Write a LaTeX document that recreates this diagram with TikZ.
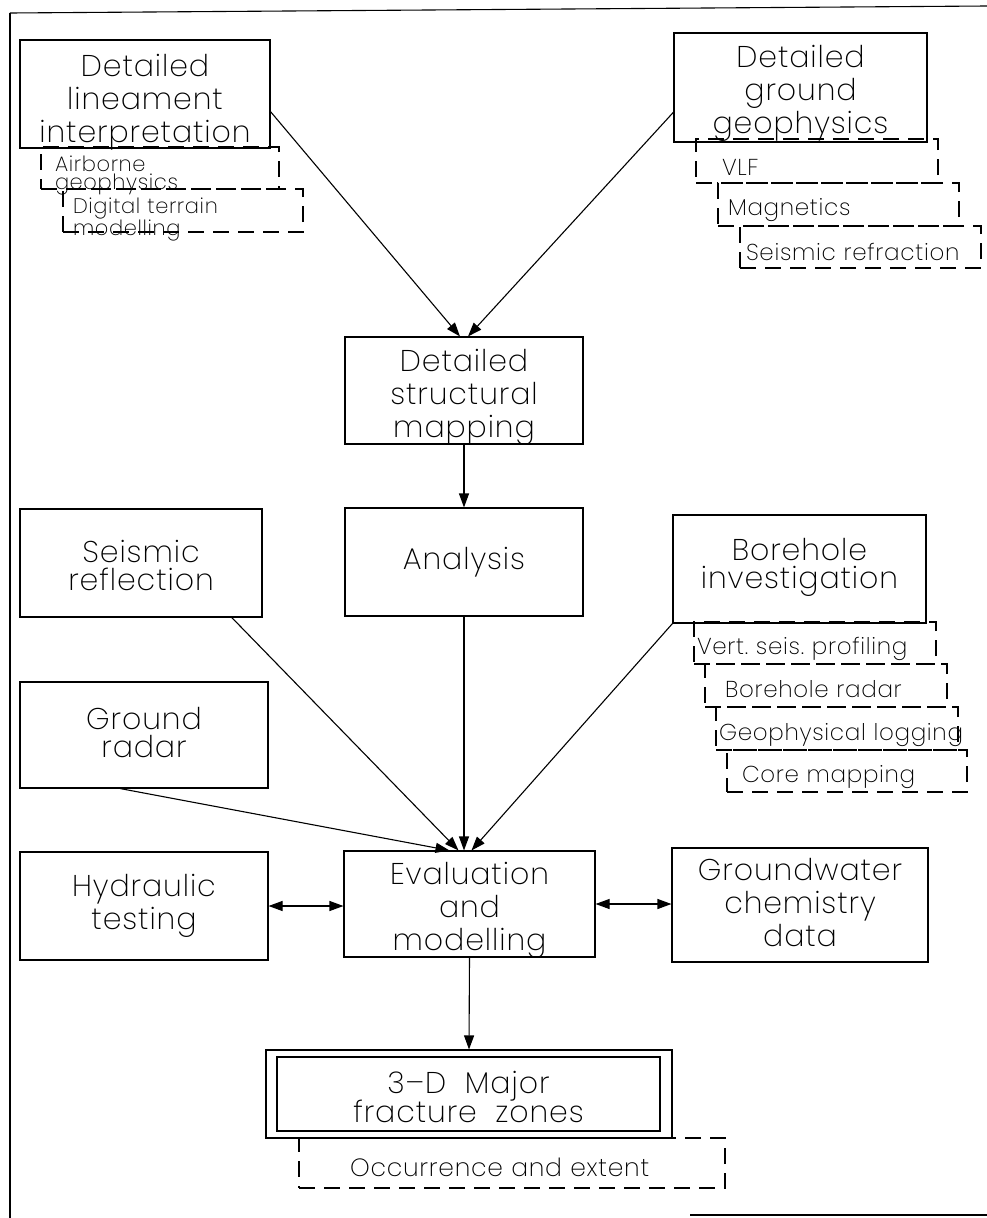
\documentclass[tikz,border=0pt]{standalone}
\usepackage{fontspec}
\setmainfont{Poppins ExtraLight}[LetterSpace=3,WordSpace=2]
\usetikzlibrary{arrows.meta}
\hyphenpenalty=10000
\lineskiplimit=-30pt

\begin{document}
\begin{tikzpicture}[x=1pt,y=-1pt,line width=1.1pt,
  >={Triangle[length=14pt,width=10pt]},
  sink/.style={text height=#1,text depth=0pt},
  box/.style={draw,inner sep=0pt,align=center,font=\fontsize{30}{33}\selectfont},
  twoline/.style={font=\fontsize{30}{28}\selectfont},
  sub/.style={draw,dash pattern=on 16pt off 9pt,inner ysep=0pt,align=left,sink=23pt,font=\fontsize{23}{17}\selectfont},
  subtwo/.style={sub,font=\fontsize{21}{18}\selectfont}]
\useasboundingbox (0,0) rectangle (987,1218);
% frame
\draw (10,13) -- (987,6);
\draw (10,13) -- (10,1218);
\draw (690,1215) -- (987,1215);

% top row
\node[box,sink=96pt,minimum width=250pt,minimum height=108pt] (lin) at (145,94) {Detailed\\lineament\\interpretation};
\node[subtwo,sink=6pt,text width=210pt,inner xsep=14pt,minimum height=42pt] (air) at (160,168) {Airborne\\geophysics};
\node[subtwo,sink=5pt,text width=220pt,inner xsep=10pt,minimum height=43pt] (dtm) at (183,210.5) {Digital~terrain\\modelling};

\node[box,sink=91pt,minimum width=253pt,minimum height=109pt] (ggeo) at (800.5,87.5) {Detailed\\ground\\geophysics};
\node[sub,sink=28pt,text width=190pt,inner xsep=26pt,minimum height=44pt] (vlf) at (817,161) {VLF};
\node[sub,sink=21pt,text width=221pt,inner xsep=10pt,minimum height=43pt] (mag) at (838.5,204.5) {Magnetics};
\node[sub,sink=26pt,text width=229pt,inner xsep=6pt,minimum height=42pt] (srf) at (860.5,247) {Seismic~refraction};

\node[box,sink=94pt,minimum width=238pt,minimum height=107pt] (map) at (464,390.5) {Detailed\\structural\\mapping};

% middle row
\node[box,twoline,sink=54pt,minimum width=242pt,minimum height=108pt] (srl) at (141,563) {Seismic\\reflection};
\node[box,minimum width=238pt,minimum height=108pt] (ana) at (464,562) {Analysis};
\node[box,twoline,sink=38pt,minimum width=253pt,minimum height=108pt] (bh) at (799.5,569) {Borehole\\investigation};
\node[sub,text width=236pt,inner xsep=3pt,minimum height=42pt] (vsp) at (815,643) {Vert.~seis.~profiling};
\node[sub,text width=202pt,inner xsep=20pt,minimum height=43pt] (bhr) at (826,685.5) {Borehole~radar};
\node[sub,text width=236pt,inner xsep=3pt,minimum height=43pt] (gpl) at (837,728.5) {Geophysical~logging};
\node[sub,text width=210pt,inner xsep=15pt,minimum height=42pt] (core) at (847,771) {Core~mapping};

\node[box,twoline,sink=44pt,minimum width=248pt,minimum height=106pt] (grd) at (144,735) {Ground\\radar};

% evaluation row
\node[box,minimum width=248pt,minimum height=108pt] (hyd) at (144,906) {Hydraulic\\testing};
\node[box,sink=92pt,minimum width=251pt,minimum height=106pt] (eval) at (469.5,904) {Evaluation\\and\\modelling};
\node[box,sink=82pt,minimum width=256pt,minimum height=114pt] (gw) at (800,905) {Groundwater\\chemistry\\data};

% result
\node[box,minimum width=406pt,minimum height=88pt] (zones) at (469,1094) {};
\node[box,font=\fontsize{30}{29}\selectfont,sink=56pt,minimum width=383pt,minimum height=74pt] (frac) at (468.5,1094) {3--D Major\\fracture zones};
\node[sub,sink=26pt,font=\fontsize{25}{17}\selectfont,text width=324pt,inner xsep=51pt,minimum height=50pt] (occ) at (512,1163) {Occurrence~and~extent};

% arrows
\draw[->] (lin.-8) -- ([xshift=-4pt]map.north);
\draw[->] (ggeo.191) -- ([xshift=4pt]map.north);
\draw[->] (map.south) -- (ana.north);
\draw[->] (srl.-31) -- ([xshift=-11pt]eval.north);
\draw[->] (ana.south) -- (ana.south |- eval.north);
\draw[->] (bh.south west) -- ([xshift=2pt]eval.north);
\draw[->] (grd.-114) -- ([xshift=-20pt]eval.north);
\draw[<->] (hyd.east) -- (hyd.east -| eval.west);
\draw[<->] (eval.east) -- (eval.east -| gw.west);
\draw[->] (eval.south) -- (zones.north);
\end{tikzpicture}
\end{document}
